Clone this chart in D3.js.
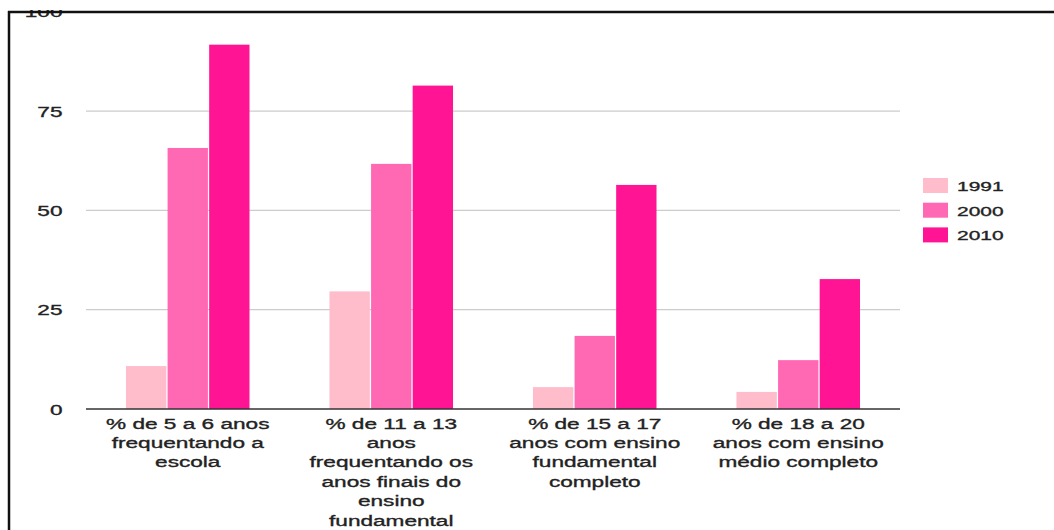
<!DOCTYPE html>
<html>
<head>
<meta charset="utf-8">
<script src="https://cdn.jsdelivr.net/npm/d3@7"></script>
<style>
  body { margin: 0; background: #fff; }
  svg { display: block; font-family: "Liberation Sans", Arial, sans-serif; }
  .stretch { stroke: #222; stroke-width: 0.35px; fill: #222; }
</style>
</head>
<body>
<svg id="chart"></svg>
<script>
// data
const categories = [
  "% de 5 a 6 anos frequentando a escola",
  "% de 11 a 13 anos frequentando os anos finais do ensino fundamental",
  "% de 15 a 17 anos com ensino fundamental completo",
  "% de 18 a 20 anos com ensino médio completo"
];
const years = ["1991", "2000", "2010"];
const values1991 = [10.8, 29.6, 5.5, 4.3];
const values2000 = [65.7, 61.7, 18.4, 12.3];
const values2010 = [91.7, 81.4, 56.4, 32.7];
const yTicks = [0, 25, 50, 75, 100];
const colors = ["#ffbccb", "#ff69b4", "#ff1493"];

const series = [values1991, values2000, values2010];

const width = 1054, height = 530;
const margin = { top: 11.7, left: 86, right: 154, bottom: 121 };
const sx = 1.46; // the source text is drawn wide

const svg = d3.select("#chart").attr("width", width).attr("height", height);

// clip everything above the cropped top edge
svg.append("defs").append("clipPath").attr("id", "crop")
  .append("rect").attr("x", 0).attr("y", 10).attr("width", width).attr("height", height);

const g = svg.append("g").attr("clip-path", "url(#crop)");

const x0 = d3.scaleBand()
  .domain(categories)
  .range([margin.left, width - margin.right])
  .paddingInner(0.393)
  .paddingOuter(0.1965);

const x1 = d3.scaleBand()
  .domain(years)
  .range([0, x0.bandwidth()])
  .paddingInner(0.03);

const y = d3.scaleLinear()
  .domain([0, 100])
  .range([height - margin.bottom, margin.top]);

// gridlines
g.append("g")
  .selectAll("line")
  .data(yTicks.filter(d => d > 0))
  .join("line")
  .attr("x1", margin.left)
  .attr("x2", width - margin.right)
  .attr("y1", d => y(d))
  .attr("y2", d => y(d))
  .attr("stroke", "#cccccc")
  .attr("stroke-width", 1.2);

// tick labels
g.append("g")
  .selectAll("text")
  .data(yTicks)
  .join("text")
  .attr("class", "stretch")
  .attr("transform", d => `translate(62.5,${y(d) + 5.5}) scale(${sx},1)`)
  .attr("text-anchor", "end")
  .style("font-size", "15.5px")
  .text(d => d);

// bars
const groups = g.append("g")
  .selectAll("g")
  .data(categories)
  .join("g")
  .attr("transform", d => `translate(${x0(d)},0)`);

groups.selectAll("rect")
  .data((d, i) => years.map((yr, j) => ({ year: yr, value: series[j][i], idx: j })))
  .join("rect")
  .attr("x", d => x1(d.year))
  .attr("width", x1.bandwidth())
  .attr("y", d => y(d.value))
  .attr("height", d => y(0) - y(d.value))
  .attr("fill", d => colors[d.idx]);

// baseline
g.append("line")
  .attr("x1", margin.left)
  .attr("x2", width - margin.right)
  .attr("y1", y(0))
  .attr("y2", y(0))
  .attr("stroke", "#333")
  .attr("stroke-width", 1.3);

// category labels, wrapped
const labels = g.append("g")
  .selectAll("text")
  .data(categories)
  .join("text")
  .attr("class", "stretch")
  .attr("transform", d => `translate(${x0(d) + x0.bandwidth() / 2},${y(0) + 19.5}) scale(${sx},1)`)
  .attr("text-anchor", "middle")
  .style("font-size", "15.5px")
  .text(d => d);

function wrap(texts, maxWidth) {
  texts.each(function() {
    const text = d3.select(this);
    const words = text.text().split(/\s+/);
    text.text(null);
    let line = [], lineNo = 0;
    let tspan = text.append("tspan").attr("x", 0).attr("y", 0);
    words.forEach(w => {
      line.push(w);
      tspan.text(line.join(" "));
      if (tspan.node().getComputedTextLength() * sx > maxWidth && line.length > 1) {
        line.pop();
        tspan.text(line.join(" "));
        line = [w];
        lineNo++;
        tspan = text.append("tspan").attr("x", 0).attr("y", lineNo * 19.5).text(w);
      }
    });
  });
}
labels.call(wrap, 182);

// legend
const legend = g.append("g")
  .selectAll("g")
  .data(years)
  .join("g")
  .attr("transform", (d, i) => `translate(923,${178 + i * 24.7})`);

legend.append("rect")
  .attr("width", 25)
  .attr("height", 15)
  .attr("fill", (d, i) => colors[i]);

legend.append("text")
  .attr("class", "stretch")
  .attr("transform", `translate(34,12.8) scale(1.55,1)`)
  .style("font-size", "13.5px")
  .text(d => d);

// frame
svg.append("line").attr("x1", 8).attr("x2", width).attr("y1", 12).attr("y2", 12)
  .attr("stroke", "#111").attr("stroke-width", 2.5);
svg.append("line").attr("x1", 9).attr("x2", 9).attr("y1", 11).attr("y2", height)
  .attr("stroke", "#111").attr("stroke-width", 2.5);
</script>
</body>
</html>
